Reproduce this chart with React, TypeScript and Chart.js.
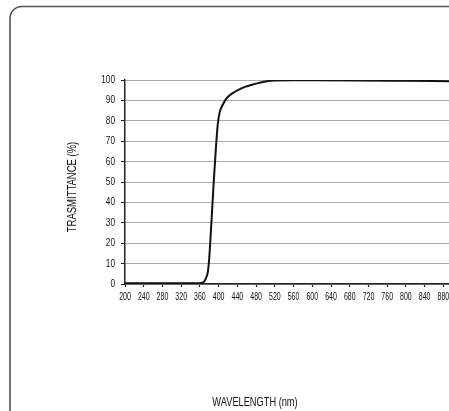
import React, { useEffect, useRef } from "react";
import { Chart, registerables } from "chart.js";

Chart.register(...registerables);

const wavelengths = [200, 240, 280, 320, 360, 365, 370, 374, 377, 380, 383, 386, 390, 394, 398, 402, 408, 414, 421, 430, 442, 456, 471, 486, 500, 520, 560, 600, 700, 800, 892];
const transmittance = [0.4, 0.4, 0.4, 0.4, 0.4, 0.6, 1.5, 3.5, 6, 13, 24, 36, 52, 66, 78, 84, 87.5, 90, 92, 93.6, 95.2, 96.6, 97.7, 98.6, 99.3, 99.8, 99.9, 99.9, 99.8, 99.6, 99.4];
const xTitle = "WAVELENGTH (nm)";
const yTitle = "TRASMITTANCE (%)";
const FONT = "'Liberation Sans', Arial, sans-serif";

function condensedText(ctx: any, text: string, x: number, y: number, size: number, sx: number, align: string, rot = 0) {
  ctx.save();
  ctx.translate(x, y);
  if (rot) ctx.rotate(rot);
  ctx.scale(sx, 1);
  ctx.font = size + "px " + FONT;
  ctx.textAlign = align;
  ctx.textBaseline = "middle";
  ctx.fillText(text, 0, 0);
  ctx.restore();
}

const decor = {
  id: "decor",
  beforeDraw(chart: any) {
    const ctx = chart.ctx;
    ctx.save();
    ctx.strokeStyle = "#555";
    ctx.lineWidth = 1.6;
    const x0 = 10, y0 = 6.5, r = 12;
    ctx.beginPath();
    ctx.moveTo(x0, 420);
    ctx.lineTo(x0, y0 + r);
    ctx.arcTo(x0, y0, x0 + r, y0, r);
    ctx.lineTo(460, y0);
    ctx.stroke();
    ctx.restore();
  },
  afterDraw(chart: any) {
    const ctx = chart.ctx;
    ctx.save();
    ctx.fillStyle = "#111";
    const xs = chart.scales.x;
    const ys = chart.scales.y;
    xs.ticks.forEach((t: any) => {
      const px = xs.getPixelForValue(t.value);
      condensedText(ctx, String(t.value), px, 297, 10, 0.7, "center");
    });
    ys.ticks.forEach((t: any) => {
      const py = ys.getPixelForValue(t.value);
      condensedText(ctx, String(t.value), 115, py, 11, 0.75, "right");
    });
    condensedText(ctx, xTitle, 255, 403, 12.5, 0.74, "center");
    condensedText(ctx, yTitle, 72, 187, 13, 0.73, "center", -Math.PI / 2);
    ctx.restore();
  },
};

export default function App() {
  const ref = useRef<HTMLCanvasElement>(null);
  useEffect(() => {
    if (!ref.current) return;
    const chart = new Chart(ref.current, {
      type: "line",
      data: {
        datasets: [
          {
            data: wavelengths.map((w, i) => ({ x: w, y: transmittance[i] })),
            borderColor: "#111",
            borderWidth: 2,
            pointRadius: 0,
            cubicInterpolationMode: "monotone",
            fill: false,
          },
        ],
      },
      options: {
        animation: false,
        responsive: false,
        layout: { padding: { top: 80, left: 0, right: 0, bottom: 0 } },
        plugins: { legend: { display: false }, tooltip: { enabled: false }, title: { display: false } },
        scales: {
          x: {
            type: "linear",
            min: 200,
            max: 892,
            afterFit: (s: any) => { s.height = 127; },
            border: { color: "#222", width: 1.5 },
            grid: { drawOnChartArea: false, tickLength: 3, tickColor: "#222", tickWidth: 1.2 },
            ticks: {
              display: false,
              stepSize: 40,
              includeBounds: false,
              autoSkip: false,
              maxRotation: 0,
              minRotation: 0,
            },
          },
          y: {
            min: 0,
            max: 100,
            afterFit: (s: any) => { s.width = 125; },
            border: { color: "#222", width: 1.5 },
            grid: { color: "#aaa", lineWidth: 1, tickLength: 4, tickColor: "#222" },
            ticks: {
              display: false,
              stepSize: 10,
            },
          },
        },
      },
      plugins: [decor],
    });
    return () => chart.destroy();
  }, []);
  return (
    <div style={{ position: "absolute", left: 0, top: 0, width: 449, height: 411, overflow: "hidden", background: "#fff" }}>
      <canvas ref={ref} width={449} height={411} style={{ display: "block" }} />
    </div>
  );
}
